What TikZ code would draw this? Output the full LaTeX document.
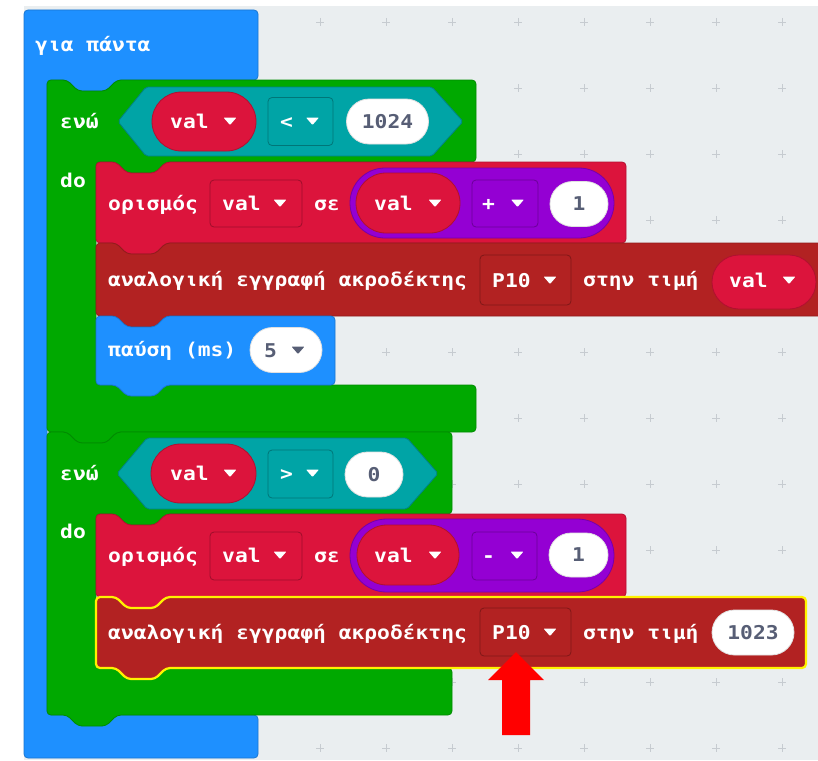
\documentclass[tikz,border=0pt]{standalone}
\usepackage{fontspec}
\usetikzlibrary{shapes.misc,calc}
\newfontfamily\blk[FakeStretch=1.12]{DejaVu Sans Mono}
\definecolor{bg}{RGB}{234,238,240}
\definecolor{gridc}{RGB}{198,203,208}
\definecolor{cblue}{HTML}{1E90FF}
\definecolor{cgreen}{HTML}{00A900}
\definecolor{cteal}{HTML}{00A4A6}
\definecolor{ccrim}{HTML}{DC143C}
\definecolor{cfire}{HTML}{B22222}
\definecolor{cpurp}{HTML}{9400D3}
\definecolor{cgrey}{HTML}{575E75}
\definecolor{cyel}{HTML}{FFF200}
\definecolor{arrowred}{HTML}{FF0000}
\tikzset{
  blk/.style={rounded corners=4pt, line width=0.8pt, line join=round},
  blkc/.style={blk, fill=#1, draw=#1!82!black},
  txt/.style={anchor=base west, inner sep=0pt, text=white, font=\blk\bfseries\fontsize{19}{19}\selectfont},
  numtxt/.style={anchor=base, inner sep=0pt, text=cgrey, font=\blk\bfseries\fontsize{19}{19}\selectfont},
  fieldbox/.style={rectangle, rounded corners=4pt, draw=#1!72!black, fill=#1, line width=0.8pt, inner sep=0pt},
  pill/.style={rounded rectangle, draw=#1!80!black, fill=#1, line width=0.8pt, inner sep=0pt},
  wpill/.style={rounded rectangle, draw=black!12, fill=white, line width=0.8pt, inner sep=0pt},
  pics/ddtri/.style={code={\fill[#1, rounded corners=0.8pt] (-6.5,-3.5) -- (6.5,-3.5) -- (0,4) -- cycle;}}
}
\begin{document}
\begin{tikzpicture}[x=1pt,y=-1pt]
\useasboundingbox (0,0) rectangle (818,760);
\clip (0,0) rectangle (818,760);
\fill[white] (0,0) rectangle (818,760);
\fill[bg] (24,6) rectangle (818,760);
\foreach \gx in {320,386,...,782} \foreach \gy in {22,88,...,748}
  \draw[gridc, line width=0.8pt] (\gx-4,\gy) -- (\gx+4,\gy) (\gx,\gy-4) -- (\gx,\gy+4);

% forever block
\draw[blkc=cblue] (24,10) -- (258,10) -- (258,80) -- (117,80) -- ++(-11,11) -- ++(-28,0) -- ++(-11,-11) -- (47,80) -- (47,715) -- (258,715) -- (258,758) -- (24,758) -- cycle;
\node[txt] (forever) at (35,52) {για πάντα};

% while 1
\draw[blkc=cgreen] (47,80) -- (67,80) -- ++(11,11) -- ++(28,0) -- ++(11,-11) -- (476,80) -- (476,162) -- (166,162) -- ++(-11,11) -- ++(-28,0) -- ++(-11,-11) -- (96,162) -- (96,385) -- (476,385) -- (476,432) -- (117,432) -- ++(-11,11) -- ++(-28,0) -- ++(-11,-11) -- (47,432) -- cycle;
% while 2
\draw[blkc=cgreen] (47,432) -- (67,432) -- ++(11,11) -- ++(28,0) -- ++(11,-11) -- (452,432) -- (452,514) -- (166,514) -- ++(-11,11) -- ++(-28,0) -- ++(-11,-11) -- (96,514) -- (96,668) -- (452,668) -- (452,715) -- (117,715) -- ++(-11,11) -- ++(-28,0) -- ++(-11,-11) -- (47,715) -- cycle;

% statement blocks
\draw[blkc=ccrim] (96,162) -- (116,162) -- ++(11,11) -- ++(28,0) -- ++(11,-11) -- (626,162) -- (626,243) -- (166,243) -- ++(-11,11) -- ++(-28,0) -- ++(-11,-11) -- (96,243) -- cycle;
\draw[blkc=cfire] (96,243) -- (116,243) -- ++(11,11) -- ++(28,0) -- ++(11,-11) -- (840,243) -- (840,316) -- (166,316) -- ++(-11,11) -- ++(-28,0) -- ++(-11,-11) -- (96,316) -- cycle;
\draw[blkc=cblue] (96,316) -- (116,316) -- ++(11,11) -- ++(28,0) -- ++(11,-11) -- (335,316) -- (335,385) -- (166,385) -- ++(-11,11) -- ++(-28,0) -- ++(-11,-11) -- (96,385) -- cycle;
\draw[blkc=ccrim] (96,514) -- (116,514) -- ++(11,11) -- ++(28,0) -- ++(11,-11) -- (626,514) -- (626,597) -- (166,597) -- ++(-11,11) -- ++(-28,0) -- ++(-11,-11) -- (96,597) -- cycle;
\draw[blk, fill=cfire, draw=cyel, line width=2.2pt] (96,597) -- (116,597) -- ++(11,11) -- ++(28,0) -- ++(11,-11) -- (806,597) -- (806,668) -- (166,668) -- ++(-11,11) -- ++(-28,0) -- ++(-11,-11) -- (96,668) -- cycle;

% ---- row 1: while (val < 1024)
\draw[blk, fill=cteal, draw=cteal!80!black, rounded corners=2pt] (118,121.5) -- (146,87) -- (432,87) -- (463,121.5) -- (432,156) -- (146,156) -- cycle;
\node[txt] (w1) at (60,128) {ενώ};
\node[pill=ccrim, minimum width=104pt, minimum height=59pt] (v1) at (204,121.5) {};
\node[txt] (v1t) at (170,128) {val};
\pic at (230,121) {ddtri=white};
\node[fieldbox=cteal, minimum width=65pt, minimum height=48pt] (lt) at (300.5,121.5) {};
\node[txt] (ltt) at (280,128) {<};
\pic at (312.5,121) {ddtri=white};
\node[wpill, minimum width=82pt, minimum height=45pt] (n1024) at (387.5,121.5) {};
\node[numtxt] (n1024t) at (387.5,128) {1024};
\node[txt] (do1) at (60,187) {do};

% set val to val + 1
\node[txt] (set1) at (108,210) {ορισμός};
\node[fieldbox=ccrim, minimum width=92pt, minimum height=47pt] (sv1) at (256,203.5) {};
\node[txt] (sv1t) at (222,210) {val};
\pic at (280,203) {ddtri=white};
\node[txt] (se1) at (314,210) {σε};
\node[pill=cpurp, minimum width=264pt, minimum height=70pt] (add) at (482,203) {};
\node[pill=ccrim, minimum width=104pt, minimum height=60pt] (av1) at (408,203) {};
\node[txt] (av1t) at (374,210) {val};
\pic at (435,203) {ddtri=white};
\node[fieldbox=cpurp, minimum width=66pt, minimum height=47pt] (plus) at (505,203.5) {};
\node[txt] (plust) at (482,210) {+};
\pic at (517.5,203) {ddtri=white};
\node[wpill, minimum width=58pt, minimum height=45pt] (one1) at (579,204) {};
\node[numtxt] (one1t) at (579,210.5) {1};

% analog write 1
\node[txt] (aw1) at (108,286) {αναλογική εγγραφή ακροδέκτης};
\node[fieldbox=cfire, minimum width=91pt, minimum height=50pt] (p1) at (525.5,280) {};
\node[txt] (p1t) at (492,287) {P10};
\pic at (550,280) {ddtri=white};
\node[txt] (val1) at (583,286) {στην τιμή};
\node[pill=ccrim, minimum width=104pt, minimum height=54pt] (vv1) at (764,282) {};
\node[txt] (vv1t) at (729,287) {val};
\pic at (789,280) {ddtri=white};

% pause
\node[txt] (pause) at (108,356) {παύση (ms)};
\node[wpill, minimum width=72pt, minimum height=45pt] (five) at (286,350) {};
\node[numtxt, anchor=base west] (fivet) at (264,357) {5};
\pic at (298,350) {ddtri=cgrey};

% ---- row 2: while (val > 0)
\draw[blk, fill=cteal, draw=cteal!80!black, rounded corners=2pt] (117,473.5) -- (147,438) -- (407,438) -- (438,473.5) -- (407,509) -- (147,509) -- cycle;
\node[txt] (w2) at (60,480) {ενώ};
\node[pill=ccrim, minimum width=105pt, minimum height=59pt] (v2) at (203.5,473.5) {};
\node[txt] (v2t) at (170,480) {val};
\pic at (230,473) {ddtri=white};
\node[fieldbox=cteal, minimum width=65pt, minimum height=48pt] (gt) at (300.5,474) {};
\node[txt] (gtt) at (280,480) {>};
\pic at (312.5,473) {ddtri=white};
\node[wpill, minimum width=58pt, minimum height=45pt] (zero) at (374,474.5) {};
\node[numtxt] (zerot) at (374,481) {0};
\node[txt] (do2) at (60,538) {do};

% set val to val - 1
\node[txt] (set2) at (108,562) {ορισμός};
\node[fieldbox=ccrim, minimum width=92pt, minimum height=48pt] (sv2) at (256,556) {};
\node[txt] (sv2t) at (222,562.5) {val};
\pic at (280,555) {ddtri=white};
\node[txt] (se2) at (314,562) {σε};
\node[pill=cpurp, minimum width=264pt, minimum height=73pt] (sub) at (482,555.5) {};
\node[pill=ccrim, minimum width=102pt, minimum height=60pt] (av2) at (408,555) {};
\node[txt] (av2t) at (374,562) {val};
\pic at (435,555) {ddtri=white};
\node[fieldbox=cpurp, minimum width=65pt, minimum height=48pt] (minus) at (504.5,556) {};
\node[txt] (minust) at (482,562) {-};
\pic at (517,555) {ddtri=white};
\node[wpill, minimum width=59pt, minimum height=44pt] (one2) at (578.5,555) {};
\node[numtxt] (one2t) at (578.5,561.5) {1};

% analog write 2
\node[txt] (aw2) at (108,639) {αναλογική εγγραφή ακροδέκτης};
\node[fieldbox=cfire, minimum width=91pt, minimum height=48pt] (p2) at (525.5,632) {};
\node[txt] (p2t) at (492,639) {P10};
\pic at (550,632) {ddtri=white};
\node[txt] (val2) at (583,639) {στην τιμή};
\node[wpill, minimum width=82pt, minimum height=45pt] (n1023) at (753,632.5) {};
\node[numtxt] (n1023t) at (753,639) {1023};

% red arrow
\coordinate (tip) at (516,652);
\fill[arrowred] (tip) -- ++(28,28) -- ++(-14,0) -- ++(0,55) -- ++(-28,0) -- ++(0,-55) -- ++(-14,0) -- cycle;
\end{tikzpicture}
\end{document}
